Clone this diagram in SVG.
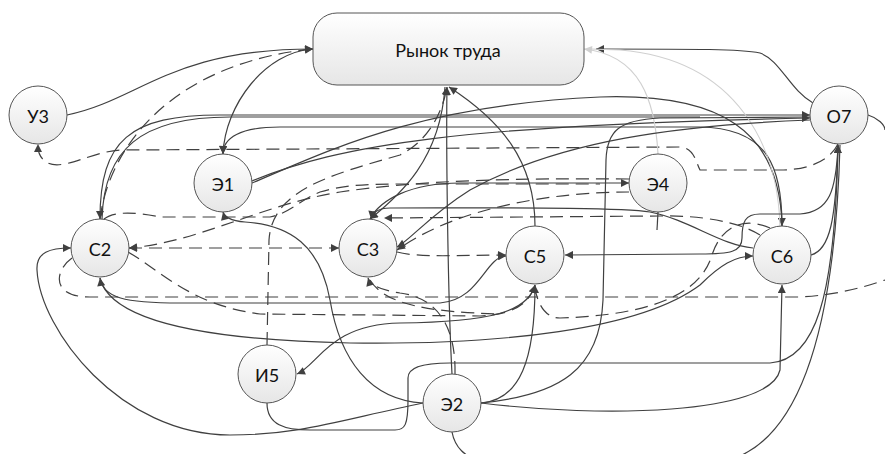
<svg xmlns="http://www.w3.org/2000/svg" width="885" height="454" viewBox="0 0 885 454">
<defs>
<linearGradient id="g" x1="0" y1="0" x2="0" y2="1"><stop offset="0" stop-color="#ffffff"/><stop offset="1" stop-color="#e6e6e6"/></linearGradient>
<marker id="a" viewBox="0 0 10 10" refX="10" refY="5" markerWidth="9" markerHeight="8" markerUnits="userSpaceOnUse" orient="auto-start-reverse"><path d="M0,0 L10,5 L0,10 z" fill="#404040"/></marker>
<marker id="ag" viewBox="0 0 10 10" refX="10" refY="5" markerWidth="9" markerHeight="8" markerUnits="userSpaceOnUse" orient="auto"><path d="M0,0 L10,5 L0,10 z" fill="#d0d0d0"/></marker>
</defs>
<style>
.e{fill:none;stroke:#404040;stroke-width:1.2}
.d{fill:none;stroke:#404040;stroke-width:1.2;stroke-dasharray:13 7}
.l{fill:none;stroke:#d0d0d0;stroke-width:1.2}
.n{fill:url(#g);stroke:#555;stroke-width:1}
.t{font-family:Lato,"Open Sans","Liberation Sans",sans-serif;font-size:18px;fill:#111;text-anchor:middle;dominant-baseline:central}
</style>
<rect width="885" height="454" fill="#fff"/>
<g id="connectors">
<path class="e" marker-end="url(#a)" d="M67,115 C140,100 170,49 313,49"/>
<path class="d" marker-end="url(#a)" d="M100,219 C110,140 180,62 313,49"/>
<path class="e" marker-end="url(#a)" d="M313,49 C265,52 225,105 223,154"/>
<path class="e" marker-start="url(#a)" marker-end="url(#a)" d="M100,219 C100,140 130,115 220,115 L810,115"/>
<path class="e" d="M102,219 C104,150 140,117 230,117 L700,117"/>
<path class="e" marker-end="url(#a)" d="M782,226 C782,170 770,128 700,127 L280,127 C240,127 223,138 223,154"/>
<path class="e" marker-end="url(#a)" d="M252,183 C330,150 420,105 600,97 C720,93 780,130 782,226"/>
<path class="e" marker-end="url(#a)" d="M252,181 C340,145 460,125 810,118"/>
<path class="d" marker-end="url(#a)" d="M838,144 C830,160 810,170 780,170 L700,170 C695,160 694,148 680,147 L120,150 C90,152 62,172 46,162 C38,156 38,150 38,144"/>
<path class="e" marker-end="url(#a)" d="M813,103 C790,90 780,60 760,53 C740,49 700,49 596,49"/>
<path class="l" marker-end="url(#ag)" d="M658,154 C655,100 640,55 584,49"/>
<path class="l" d="M780,226 C778,150 740,60 620,50 L590,49"/>
<path class="e" marker-end="url(#a)" d="M452,374 C448,300 446,150 447,87"/>
<path class="e" marker-end="url(#a)" d="M535,226 C535,160 500,120 449,87"/>
<path class="e" marker-end="url(#a)" d="M445,87 C440,160 400,195 370,219"/>
<path class="d" marker-end="url(#a)" d="M267,345 L269,240 C272,190 330,175 400,155 C430,140 443,110 447,87"/>
<path class="e" marker-end="url(#a)" d="M810,120 C680,125 560,140 470,190 C430,215 410,240 397,247"/>
<path class="d" marker-end="url(#a)" d="M629,192 C560,192 460,205 397,250"/>
<path class="d" marker-start="url(#a)" marker-end="url(#a)" d="M129,248 L339,248"/>
<path class="d" marker-end="url(#a)" d="M629,179 C520,178 420,180 340,192 C260,205 200,242 129,248"/>
<path class="d" d="M104,219 C115,210 140,213 160,217 L270,217 C290,213 300,200 320,192 C340,186 360,184 400,184 L600,184"/>
<path class="e" marker-end="url(#a)" d="M370,219 C380,200 410,183 460,183 L629,183"/>
<path class="d" marker-end="url(#a)" d="M397,252 C420,258 460,255 506,255"/>
<path class="e" marker-start="url(#a)" marker-end="url(#a)" d="M100,278 C103,298 125,303 180,303 L440,303 C480,300 485,257 506,256"/>
<path class="e" marker-end="url(#a)" d="M100,278 C110,320 200,340 350,343 C500,345 640,330 700,285 C720,265 735,256 753,256"/>
<path class="d" d="M72,258 C55,270 50,297 90,297 L800,297 C840,295 870,285 885,280"/>
<path class="d" marker-end="url(#a)" d="M128,252 C160,270 190,305 260,314 L480,316 C520,314 530,300 535,285"/>
<path class="e" marker-end="url(#a)" d="M535,285 C528,312 490,322 400,323 C330,324 318,365 297,374"/>
<path class="d" marker-end="url(#a)" d="M455,374 C456,330 440,298 400,293 C380,290 370,285 368,278"/>
<path class="d" d="M370,280 C385,305 430,312 500,314"/>
<path class="e" marker-end="url(#a)" d="M423,403 C370,400 340,360 330,300 C320,245 290,225 245,222 C230,221 224,216 223,212"/>
<path class="e" marker-end="url(#a)" d="M423,403 C340,420 300,435 230,435 C120,435 40,330 37,270 C36,252 50,248 71,248"/>
<path class="e" marker-end="url(#a)" d="M267,403 C267,425 285,430 310,430 L395,430 C405,430 408,425 408,400 L408,378 C408,368 420,363 450,363 L770,363 C815,360 835,300 838,145"/>
<path class="e" marker-end="url(#a)" d="M481,403 C520,400 535,360 535,285"/>
<path class="e" marker-end="url(#a)" d="M481,403 C600,418 770,415 780,370 L782,285"/>
<path class="e" d="M481,403 C560,395 600,370 603,300 L606,160 C607,130 620,120 660,118 L810,117"/>
<path class="e" d="M452,432 C455,448 465,456 480,462 L720,462 C800,448 835,330 840,145"/>
<path class="e" marker-end="url(#a)" d="M811,255 C830,250 836,220 838,145"/>
<path class="e" marker-end="url(#a)" d="M838,146 C836,190 830,212 800,214 L760,214 C745,214 742,222 742,238 C742,252 730,254 700,254 L565,255"/>
<path class="e" marker-end="url(#a)" d="M753,248 C720,245 690,220 650,212 C620,207 500,208 390,208 C378,208 372,213 371,219"/>
<path class="d" marker-end="url(#a)" d="M760,235 C740,222 700,215 660,216 L384,218"/>
<path class="d" d="M770,228 C740,215 720,230 712,255 C700,295 650,315 560,318 C543,318 537,300 535,288"/>
<path class="e" d="M658,212 L657,230"/>
<path class="e" d="M868,115 C878,118 885,125 885,130"/>
</g>
<g id="n-rynok"><rect class="n" x="313" y="13" width="271" height="72" rx="24"/><text class="t" x="448" y="50">Рынок труда</text></g>
<g id="n-u3"><circle class="n" cx="38" cy="115" r="29"/><text class="t" x="38" y="116">У3</text></g>
<g id="n-e1"><circle class="n" cx="223" cy="183" r="29"/><text class="t" x="223" y="184">Э1</text></g>
<g id="n-s2"><circle class="n" cx="100" cy="248" r="29"/><text class="t" x="100" y="249">С2</text></g>
<g id="n-s3"><circle class="n" cx="368" cy="248" r="29"/><text class="t" x="368" y="249">С3</text></g>
<g id="n-s5"><circle class="n" cx="535" cy="255" r="29"/><text class="t" x="535" y="256">С5</text></g>
<g id="n-s6"><circle class="n" cx="782" cy="255" r="29"/><text class="t" x="782" y="256">С6</text></g>
<g id="n-e4"><circle class="n" cx="658" cy="183" r="29"/><text class="t" x="658" y="184">Э4</text></g>
<g id="n-o7"><circle class="n" cx="839" cy="115" r="29"/><text class="t" x="839" y="116">О7</text></g>
<g id="n-i5"><circle class="n" cx="267" cy="374" r="29"/><text class="t" x="267" y="375">И5</text></g>
<g id="n-e2"><circle class="n" cx="452" cy="403" r="29"/><text class="t" x="452" y="404">Э2</text></g>
</svg>
